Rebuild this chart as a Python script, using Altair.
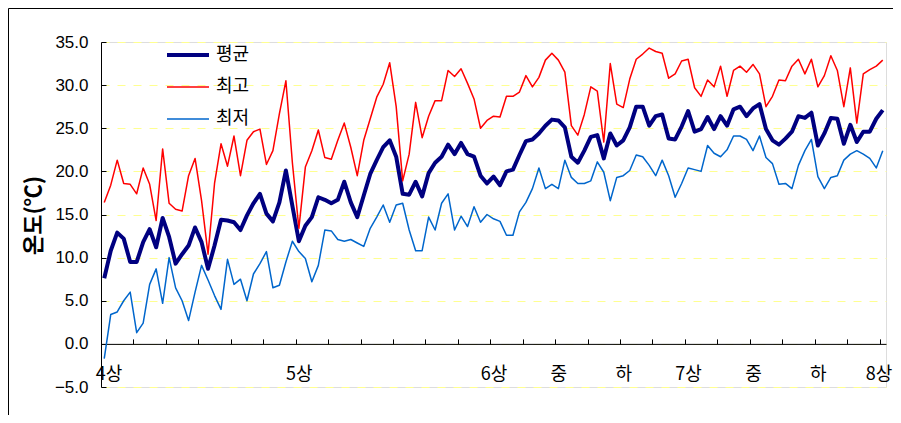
import altair as alt
import pandas as pd

# ---- data ----
series_names = ["평균", "최고", "최저"]
series_colors = ["#000080", "#FF0000", "#0066CC"]

avg_t = [7.6, 10.8, 12.9, 12.2, 9.5, 9.5, 11.8, 13.3, 11.2, 14.6,
         12.4, 9.3, 10.4, 11.4, 13.5, 11.8, 8.7, 11.4, 14.4, 14.3,
         14.1, 13.2, 14.9, 16.3, 17.4, 15.1, 14.2, 16.4, 20.1, 16.0,
         11.9, 13.7, 14.7, 17.0, 16.7, 16.3, 16.7, 18.8, 16.4, 14.7,
         17.2, 19.7, 21.3, 22.8, 23.6, 21.7, 17.4, 17.3, 18.8, 17.1,
         19.8, 21.0, 21.7, 23.1, 22.0, 23.3, 22.0, 21.7, 19.5, 18.6,
         19.4, 18.4, 20.0, 20.2, 21.9, 23.5, 23.7, 24.4, 25.3, 26.0,
         25.9, 25.1, 21.7, 21.0, 22.4, 24.0, 24.2, 21.5, 24.4, 23.0,
         23.6, 25.1, 27.5, 27.5, 25.3, 26.4, 26.6, 23.8, 23.7, 25.2,
         27.0, 24.6, 24.9, 26.3, 24.9, 26.4, 25.3, 27.2, 27.5, 26.4,
         27.3, 27.8, 24.9, 23.6, 23.1, 23.8, 24.6, 26.4, 26.2, 26.8,
         23.0, 24.4, 26.2, 26.1, 23.2, 25.4, 23.4, 24.6, 24.6, 26.1,
         27.1]

max_t = [16.4, 18.4, 21.3, 18.6, 18.5, 17.4, 20.4, 18.5, 14.3, 22.6,
         16.3, 15.6, 15.4, 19.5, 21.5, 16.6, 10.4, 18.6, 23.2, 20.6,
         24.1, 19.5, 23.6, 24.6, 24.9, 20.8, 22.4, 26.7, 30.5, 21.0,
         13.4, 20.5, 22.4, 24.8, 21.6, 21.4, 23.6, 25.6, 22.8, 19.5,
         23.6, 26.1, 28.6, 30.1, 32.6, 27.5, 18.9, 22.0, 28.0, 23.9,
         26.4, 28.2, 28.2, 31.7, 31.0, 31.9, 30.2, 28.4, 25.0, 25.9,
         26.4, 26.3, 28.7, 28.7, 29.2, 31.1, 29.8, 30.9, 32.9, 33.7,
         32.9, 31.5, 25.3, 24.2, 26.6, 29.8, 29.3, 23.4, 32.5, 27.8,
         27.4, 30.7, 33.0, 33.6, 34.3, 33.9, 33.7, 30.8, 31.3, 32.8,
         33.0, 29.7, 28.7, 30.6, 29.8, 32.2, 28.7, 31.7, 32.2, 31.5,
         32.4, 31.3, 27.5, 28.7, 30.6, 30.5, 32.2, 33.0, 31.3, 33.0,
         29.8, 31.1, 33.4, 31.7, 27.5, 32.0, 25.6, 31.3, 31.8, 32.2,
         32.9]

min_t = [-1.7, 3.4, 3.7, 5.0, 6.0, 1.3, 2.4, 6.9, 8.7, 4.7,
         10.0, 6.5, 5.0, 2.7, 6.0, 9.1, 7.4, 5.6, 4.0, 9.8,
         6.9, 7.5, 5.0, 8.1, 9.3, 10.7, 6.5, 6.8, 9.5, 11.9,
         10.7, 9.9, 7.2, 9.1, 13.2, 13.1, 12.1, 11.9, 12.1, 11.7,
         11.3, 13.4, 14.7, 16.1, 14.1, 16.1, 16.3, 13.2, 10.8, 10.8,
         14.7, 13.2, 16.3, 17.4, 13.2, 14.8, 13.6, 15.9, 14.1, 15.0,
         14.5, 14.2, 12.6, 12.6, 15.3, 16.4, 18.0, 20.4, 18.0, 18.5,
         18.0, 21.3, 19.3, 18.6, 18.6, 18.9, 21.1, 19.9, 16.6, 19.3,
         19.5, 20.1, 21.9, 21.7, 20.7, 19.5, 21.3, 19.5, 17.0, 18.6,
         20.4, 20.2, 20.0, 23.0, 22.1, 21.7, 22.5, 24.1, 24.1, 23.7,
         22.4, 24.1, 21.6, 20.9, 18.5, 18.6, 18.0, 20.7, 22.4, 23.7,
         19.4, 18.0, 19.3, 19.5, 21.3, 22.0, 22.4, 22.0, 21.5, 20.4,
         22.4]

x_label_pos = [0, 30, 60, 70, 80, 90, 100, 110, 120]
x_labels = ["4상", "5상", "6상", "중", "하", "7상", "중", "하", "8상"]
x_tick_pos = [-0.5 + 5 * k for k in range(25)]
y_ticks = [-5, 0, 5, 10, 15, 20, 25, 30, 35]

# ---- build table ----
rows = []
for name, vals in zip(series_names, [avg_t, max_t, min_t]):
    for d, v in enumerate(vals):
        rows.append({"day": d, "series": name, "value": v})
df = pd.DataFrame(rows)

W, H = 785, 345
NUM_FONT = "Liberation Sans, Noto Sans CJK KR"
KR_FONT = "Noto Sans CJK KR, Liberation Sans"
y0_px = H * (35 - 0) / 40.0  # pixel position of 0 from the top

label_expr = "''"
for p, l in reversed(list(zip(x_label_pos, x_labels))):
    label_expr = f"datum.value == {p} ? '{l}' : ({label_expr})"

xscale = alt.Scale(domain=[-0.5, 120.5], nice=False, zero=False)
yscale = alt.Scale(domain=[-5, 35], nice=False, zero=False)

legend_kw = dict(orient="none", legendX=64, legendY=-10, title=None,
                 symbolType="stroke", symbolSize=1764, labelFont=KR_FONT,
                 labelFontSize=18, labelColor="#000000", labelOffset=5,
                 rowPadding=1, padding=0)

lines = alt.Chart(df).mark_line(strokeJoin="round").encode(
    x=alt.X("day:Q", scale=xscale,
            axis=alt.Axis(orient="bottom", offset=-(H - y0_px), values=x_label_pos,
                          labelExpr=label_expr, ticks=False, tickSize=0, domain=False,
                          grid=False, labelFont=KR_FONT, labelFontSize=18,
                          labelColor="#000000", labelPadding=22,
                          labelFlush=5, labelFlushOffset=9,
                          labelOverlap=False, title=None)),
    y=alt.Y("value:Q", scale=yscale,
            axis=alt.Axis(orient="left", values=y_ticks, format=".1f",
                          ticks=False, tickSize=0, domain=True, domainColor="#000000",
                          grid=True, gridColor="#FFFF90", gridDash=[8, 8], gridWidth=1,
                          labelFont=NUM_FONT, labelFontSize=17, labelColor="#000000",
                          labelPadding=13, title="온도(℃)", titleFont=KR_FONT,
                          titleFontSize=22, titleFontWeight="bold", titleColor="#000000",
                          titleX=-56, titleY=173, titleAngle=270)),
    color=alt.Color("series:N",
                    scale=alt.Scale(domain=series_names, range=series_colors),
                    legend=alt.Legend(**legend_kw)),
    strokeWidth=alt.StrokeWidth("series:N",
                                scale=alt.Scale(type="ordinal", domain=series_names,
                                                range=[4, 1.5, 1.5]),
                                legend=alt.Legend(**legend_kw)),
    order=alt.Order("day:Q"),
)

# axis lines with inward ticks (x axis at 0, y ticks pointing right)
ticks_layer = alt.Chart(df).mark_line(strokeOpacity=0).encode(
    x=alt.X("day:Q", scale=xscale,
            axis=alt.Axis(orient="top", offset=-y0_px, values=x_tick_pos,
                          labels=False, ticks=True, tickSize=5, tickColor="#000000",
                          domain=True, domainColor="#000000", grid=False, title=None)),
    y=alt.Y("value:Q", scale=yscale,
            axis=alt.Axis(orient="right", offset=-W, values=y_ticks, labels=False,
                          ticks=True, tickSize=5, tickColor="#000000", domain=False,
                          grid=False, title=None)),
    detail="series:N",
)

# outer chart frame (decoration)
frame_left = alt.Chart(alt.Data(values=[{}])).mark_rule(color="#000000", strokeWidth=1).encode(
    x=alt.value(-92.5), y=alt.value(-33.5), y2=alt.value(H + 40))
frame_top = alt.Chart(alt.Data(values=[{}])).mark_rule(color="#000000", strokeWidth=1).encode(
    x=alt.value(-92.5), x2=alt.value(W + 20), y=alt.value(-33.5))

chart = alt.layer(lines, ticks_layer, frame_left, frame_top).resolve_axis(
    x="independent", y="independent"
).properties(
    width=W, height=H,
    autosize=alt.AutoSizeParams(type="none"),
    padding={"left": 93, "top": 34, "right": 7, "bottom": 28},
).configure_view(stroke=None).configure(background="#FFFFFF")

chart.save("out.html", embed_options={"renderer": "svg", "actions": False})
